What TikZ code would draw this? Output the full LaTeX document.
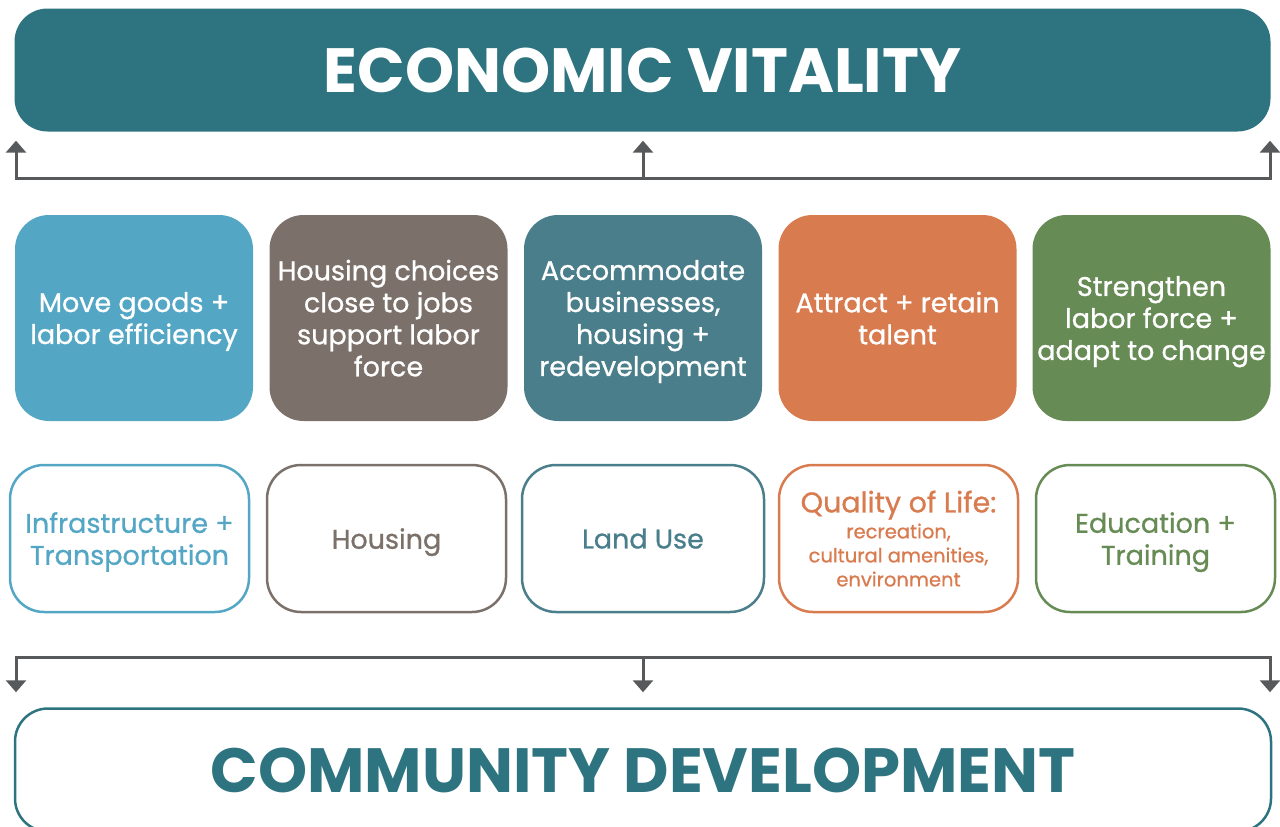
\documentclass[tikz,border=0pt]{standalone}
\usepackage{fontspec}
\setmainfont{Poppins}
\newfontfamily\boxfont{Poppins}[FakeBold=0.8]
\usetikzlibrary{arrows.meta}
\definecolor{evteal}{HTML}{2D7480}
\definecolor{infblue}{HTML}{53A6C4}
\definecolor{housegray}{HTML}{7B716A}
\definecolor{landteal}{HTML}{4A7E8B}
\definecolor{lifeorange}{HTML}{D87B4F}
\definecolor{edugreen}{HTML}{678B55}
\definecolor{linkgray}{HTML}{58595B}

\begin{document}
\begin{tikzpicture}[x=1pt,y=-1pt,
  banner/.style={rounded corners=33pt,minimum width=1256pt,minimum height=123pt,
    inner sep=0pt,font=\fontsize{62.5}{62.5}\selectfont\bfseries},
  goal/.style={rounded corners=34pt,minimum width=238pt,minimum height=206pt,
    inner sep=0pt,text depth=-1pt,fill=#1,text=white,align=center,
    font=\boxfont\fontsize{27}{32}\selectfont},
  topic/.style={rounded corners=34pt,minimum width=239pt,minimum height=147pt,
    inner sep=0pt,text depth=-3pt,draw=#1,line width=2.5pt,text=#1,align=center,
    font=\boxfont\fontsize{27}{32}\selectfont},
  link/.style={draw=linkgray,line width=3pt},
  tip/.style={link,-{Triangle[width=20pt,length=12pt]}},
  tips/.style={link,{Triangle[width=20pt,length=12pt]}-{Triangle[width=20pt,length=12pt]}}]
\useasboundingbox (0,0) rectangle (1280,827);

\node[banner,fill=evteal,text=white] (ev) at (642.5,70) {ECONOMIC VITALITY};

\node[goal=infblue]    (g1) at (134,318)   {Move goods +\\labor efficiency};
\node[goal=housegray]  (g2) at (388.5,318) {Housing choices\\close to jobs\\support labor\\force};
\node[goal=landteal]   (g3) at (643,318)   {Accommodate\\businesses,\\housing +\\redevelopment};
\node[goal=lifeorange] (g4) at (897.5,318) {Attract + retain\\talent};
\node[goal=edugreen]   (g5) at (1151.5,318){Strengthen\\labor force +\\adapt to change};

\node[topic=infblue]    (t1) at (129.5,538.5) {Infrastructure +\\Transportation};
\node[topic=housegray]  (t2) at (386.5,538.5) {Housing};
\node[topic=landteal,minimum width=242pt] (t3) at (643,538.5) {Land Use};
\node[topic=lifeorange] (t4) at (898.5,538.5) {{\fontsize{28.5}{32}\selectfont Quality of Life:}\\[-6pt]
  {\fontsize{19.5}{24}\selectfont recreation,}\\[-8pt]
  {\fontsize{19.5}{24}\selectfont cultural amenities,}\\[-8pt]
  {\fontsize{19.5}{24}\selectfont environment}};
\node[topic=edugreen]   (t5) at (1155.5,538.5) {Education +\\Training};

\node[banner,draw=evteal,line width=2.5pt,text=evteal] (cd) at (643,770) {COMMUNITY DEVELOPMENT};

\coordinate (upL) at (16,178);
\coordinate (upM) at (643,178);
\coordinate (upR) at (1270,178);
\coordinate (dnL) at (16,657);
\coordinate (dnM) at (643,657);
\coordinate (dnR) at (1270,657);

\draw[tips] ([yshift=-9pt]upL |- ev.south) -- (upL) -- (upR) -- ([yshift=-9pt]upR |- ev.south);
\draw[tip] (upM) -- ([yshift=-9pt]upM |- ev.south);
\draw[tips] ([yshift=15pt]dnL |- cd.north) -- (dnL) -- (dnR) -- ([yshift=15pt]dnR |- cd.north);
\draw[tip] (dnM) -- ([yshift=15pt]dnM |- cd.north);
\end{tikzpicture}
\end{document}
